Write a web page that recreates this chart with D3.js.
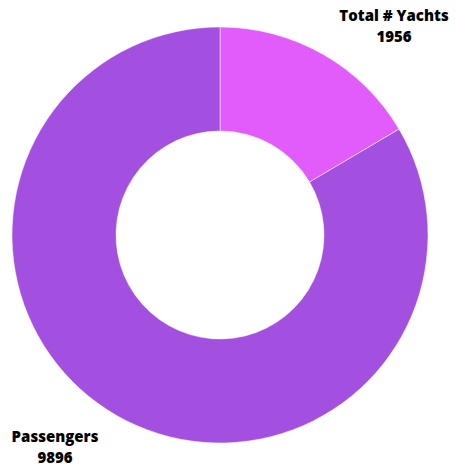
<!DOCTYPE html>
<html><head><meta charset="utf-8">
<script src="https://cdn.jsdelivr.net/npm/d3@7"></script>
<style>html,body{margin:0;padding:0;background:#fff;}svg{display:block;}</style>
</head><body>
<svg id="c" width="457" height="468"></svg>
<script>
const categories = ["Total # Yachts", "Passengers"];
const values = [1956, 9896];
const colors = ["#e15cfb", "#a34fe0"];

const svg = d3.select("#c");
const cx = 220, cy = 235, outerR = 208, innerR = 104;
const g = svg.append("g").attr("transform", `translate(${cx},${cy})`);
const data = categories.map((c, i) => ({cat: c, val: values[i], color: colors[i]}));
const pie = d3.pie().value(d => d.val).sort(null);
const arc = d3.arc().innerRadius(innerR).outerRadius(outerR);
g.selectAll("path").data(pie(data)).join("path")
  .attr("d", arc)
  .attr("fill", d => d.data.color)
  .attr("stroke", "rgba(255,255,255,0.5)")
  .attr("stroke-width", 1);

const labelPos = [{x: 394, y: 21}, {x: 55, y: 442}];
data.forEach((d, i) => {
  const t = svg.append("text")
    .attr("text-anchor", "middle")
    .attr("font-family", "'Open Sans', sans-serif")
    .attr("font-weight", 800)
    .attr("font-size", 15)
    .attr("fill", "#000");
  t.append("tspan").attr("x", labelPos[i].x).attr("y", labelPos[i].y).text(d.cat);
  t.append("tspan").attr("x", labelPos[i].x).attr("y", labelPos[i].y + 21).text(d.val);
});
</script>
</body></html>
